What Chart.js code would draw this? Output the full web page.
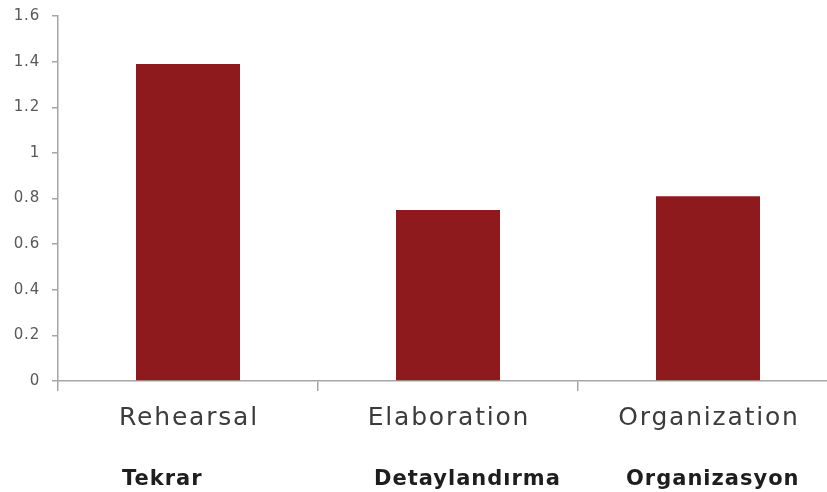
<!DOCTYPE html>
<html>
<head>
<meta charset="utf-8">
<script src="https://cdn.jsdelivr.net/npm/chart.js@4/dist/chart.umd.min.js"></script>
<style>
  html, body { margin: 0; padding: 0; background: #fff; overflow: hidden; width: 827px; height: 492px; }
  #wrap { position: absolute; left: 0; top: 0; width: 845px; height: 492px; }
</style>
</head>
<body>
<div id="wrap"><canvas id="c"></canvas></div>
<script>
const categories = ["Rehearsal", "Elaboration", "Organization"];
const subtitles = ["Tekrar", "Detaylandırma", "Organizasyon"];
const values = [1.39, 0.75, 0.81];
const yTicks = [0, 0.2, 0.4, 0.6, 0.8, 1, 1.2, 1.4, 1.6];

const subtitleShift = [-66, -74, -82];

const labelPlugin = {
  id: 'labelPlugin',
  beforeDraw(chart) {
    chart.ctx.letterSpacing = '0.8px';
  },
  afterDraw(chart) {
    const ctx = chart.ctx;
    const xs = chart.scales.x;
    ctx.save();
    ctx.letterSpacing = '1.8px';
    ctx.font = '25px "DejaVu Sans"';
    ctx.fillStyle = '#3c3c3c';
    ctx.textAlign = 'center';
    ctx.textBaseline = 'alphabetic';
    categories.forEach((c, i) => {
      ctx.fillText(c, xs.getPixelForValue(i) + 1, 425);
    });
    ctx.letterSpacing = '1px';
    ctx.font = 'bold 21px "DejaVu Sans"';
    ctx.fillStyle = '#1e1e1e';
    ctx.textAlign = 'left';
    subtitles.forEach((s, i) => {
      ctx.fillText(s, xs.getPixelForValue(i) + subtitleShift[i], 485);
    });
    ctx.restore();
    ctx.letterSpacing = '0px';
  }
};

new Chart(document.getElementById('c'), {
  type: 'bar',
  data: {
    labels: categories,
    datasets: [{
      data: values,
      backgroundColor: '#8f1a1e',
      borderWidth: 0,
      barPercentage: 0.8,
      categoryPercentage: 0.5
    }]
  },
  options: {
    responsive: true,
    maintainAspectRatio: false,
    animation: false,
    events: [],
    layout: { padding: { top: 16, right: 7, bottom: 0, left: 0 } },
    plugins: { legend: { display: false }, tooltip: { enabled: false } },
    scales: {
      x: {
        grid: { display: true, offset: true, drawOnChartArea: false, drawTicks: true, tickLength: 10, color: '#a6a6a6', lineWidth: 1.5 },
        border: { display: true, color: '#a6a6a6', width: 1.5 },
        ticks: { display: false },
        afterFit(scale) { scale.height = 111; scale.paddingLeft = 0; scale.paddingRight = 0; }
      },
      y: {
        min: 0, max: 1.6,
        afterBuildTicks(scale) { scale.ticks = yTicks.map(v => ({ value: v })); },
        ticks: { color: '#595959', font: { family: 'DejaVu Sans', size: 15 }, padding: 12,
          callback: (v) => String(v) },
        grid: { display: true, drawOnChartArea: false, drawTicks: true, tickLength: 6, color: '#a6a6a6', lineWidth: 1.5 },
        border: { display: true, color: '#a6a6a6', width: 1.5 },
        afterFit(scale) { scale.width = 58; scale.paddingTop = 0; scale.paddingBottom = 0; }
      }
    }
  },
  plugins: [labelPlugin]
});
</script>
</body>
</html>
